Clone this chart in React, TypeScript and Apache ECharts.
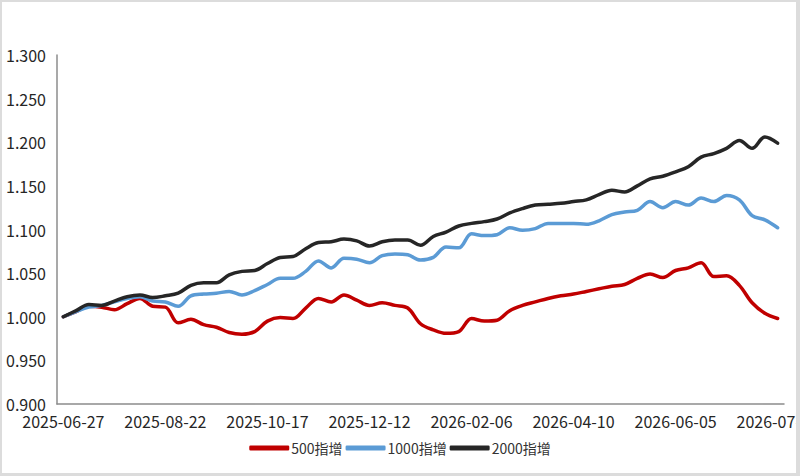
import React, { useEffect, useRef } from "react";
import * as echarts from "echarts";

const dates = [
  "2025-06-27", "2025-07-04", "2025-07-11", "2025-07-18", "2025-07-25", "2025-08-01", "2025-08-08", "2025-08-15",
  "2025-08-22", "2025-08-29", "2025-09-05", "2025-09-12", "2025-09-19", "2025-09-26", "2025-09-30", "2025-10-10",
  "2025-10-17", "2025-10-24", "2025-10-31", "2025-11-07", "2025-11-14", "2025-11-21", "2025-11-28", "2025-12-05",
  "2025-12-12", "2025-12-19", "2025-12-26", "2025-12-31", "2026-01-09", "2026-01-16", "2026-01-23", "2026-01-30",
  "2026-02-06", "2026-02-13", "2026-02-27", "2026-03-06", "2026-03-13", "2026-03-20", "2026-03-27", "2026-04-03",
  "2026-04-10", "2026-04-17", "2026-04-24", "2026-04-30", "2026-05-08", "2026-05-15", "2026-05-22", "2026-05-29",
  "2026-06-05", "2026-06-12", "2026-06-18", "2026-06-26", "2026-07-03", "2026-07-10", "2026-07-17", "2026-07-24",
  "2026-07-31",
];

const series500 = [
  1.000, 1.006, 1.012, 1.011, 1.008, 1.015, 1.021, 1.012,
  1.011, 0.993, 0.997, 0.991, 0.988, 0.982, 0.980, 0.983,
  0.995, 0.999, 0.998, 1.010, 1.021, 1.017, 1.025, 1.019,
  1.013, 1.016, 1.013, 1.010, 0.992, 0.985, 0.981, 0.983,
  0.998, 0.995, 0.996, 1.007, 1.013, 1.017, 1.021, 1.024,
  1.026, 1.029, 1.032, 1.035, 1.037, 1.044, 1.049, 1.045,
  1.053, 1.056, 1.062, 1.046, 1.047, 1.036, 1.016, 1.004,
  0.998,
];

const series1000 = [
  1.000, 1.006, 1.011, 1.013, 1.017, 1.021, 1.023, 1.018,
  1.017, 1.012, 1.024, 1.026, 1.027, 1.029, 1.025, 1.030,
  1.037, 1.044, 1.044, 1.052, 1.064, 1.056, 1.067, 1.066,
  1.062, 1.070, 1.072, 1.071, 1.065, 1.068, 1.080, 1.079,
  1.095, 1.093, 1.094, 1.102, 1.099, 1.101, 1.107, 1.107,
  1.107, 1.106, 1.110, 1.117, 1.120, 1.122, 1.132, 1.125,
  1.132, 1.128, 1.136, 1.132, 1.139, 1.134, 1.116, 1.111,
  1.102,
];

const series2000 = [
  1.000, 1.007, 1.014, 1.013, 1.018, 1.023, 1.025, 1.022,
  1.024, 1.027, 1.036, 1.039, 1.039, 1.048, 1.052, 1.053,
  1.061, 1.068, 1.069, 1.078, 1.085, 1.086, 1.089, 1.087,
  1.081, 1.086, 1.088, 1.088, 1.082, 1.092, 1.097, 1.104,
  1.107, 1.109, 1.112, 1.119, 1.124, 1.128, 1.129, 1.130,
  1.132, 1.134, 1.140, 1.145, 1.143, 1.150, 1.158, 1.161,
  1.166, 1.172, 1.183, 1.187, 1.193, 1.202, 1.193, 1.206,
  1.199,
];

const seriesNames = ["500指增", "1000指增", "2000指增"];
const seriesColors = ["#C00000", "#5B9BD5", "#262626"];

const FONT = "'Noto Sans CJK SC', 'Noto Sans', sans-serif";

export default function App() {
  const ref = useRef<HTMLDivElement>(null);

  useEffect(() => {
    if (!ref.current) return;
    const chart = echarts.init(ref.current, null, { renderer: "svg" });
    const data = [series500, series1000, series2000];
    chart.setOption({
      animation: false,
      backgroundColor: "#ffffff",
      grid: {
        left: 57,
        right: 16,
        top: 55,
        bottom: 72,
        containLabel: false,
        outerBoundsMode: "none",
      },
      legend: {
        bottom: 16,
        left: "center",
        itemWidth: 40,
        itemHeight: 5,
        itemGap: 3,
        icon: "roundRect",
        textStyle: { fontFamily: FONT, fontSize: 14, color: "#333333", padding: [0, 0, 0, -3] },
        data: seriesNames,
      },
      xAxis: {
        type: "category",
        data: dates,
        boundaryGap: true,
        axisLine: { lineStyle: { color: "#8c8c8c", width: 1.5 } },
        axisTick: { show: false },
        axisLabel: {
          interval: 7,
          margin: 9,
          fontFamily: FONT,
          fontSize: 16,
          color: "#262626",
          hideOverlap: false,
        },
        splitLine: { show: false },
      },
      yAxis: {
        type: "value",
        min: 0.9,
        max: 1.3,
        interval: 0.05,
        axisLine: { show: true, lineStyle: { color: "#8c8c8c", width: 1.5 } },
        axisTick: { show: false },
        splitLine: { show: false },
        axisLabel: {
          margin: 11,
          fontFamily: FONT,
          fontSize: 16,
          color: "#262626",
          formatter: (v: number) => v.toFixed(3),
        },
      },
      series: seriesNames.map((name, k) => ({
        name,
        type: "line",
        data: data[k],
        smooth: 0.35,
        showSymbol: false,
        symbol: "none",
        lineStyle: { color: seriesColors[k], width: 3.5, cap: "round", join: "round" },
        itemStyle: { color: seriesColors[k] },
      })),
    });
    return () => chart.dispose();
  }, []);

  return (
    <div style={{ position: "fixed", left: 0, top: 0, width: 800, height: 476 }}>
      <div ref={ref} style={{ width: 800, height: 476 }} />
      <div
        style={{
          position: "absolute",
          left: 0,
          top: 0,
          width: 800,
          height: 476,
          boxSizing: "border-box",
          borderTop: "2px solid #dcdcdc",
          borderLeft: "2px solid #dcdcdc",
          borderRight: "4px solid #dcdcdc",
          borderBottom: "3px solid #dcdcdc",
          pointerEvents: "none",
        }}
      />
    </div>
  );
}
